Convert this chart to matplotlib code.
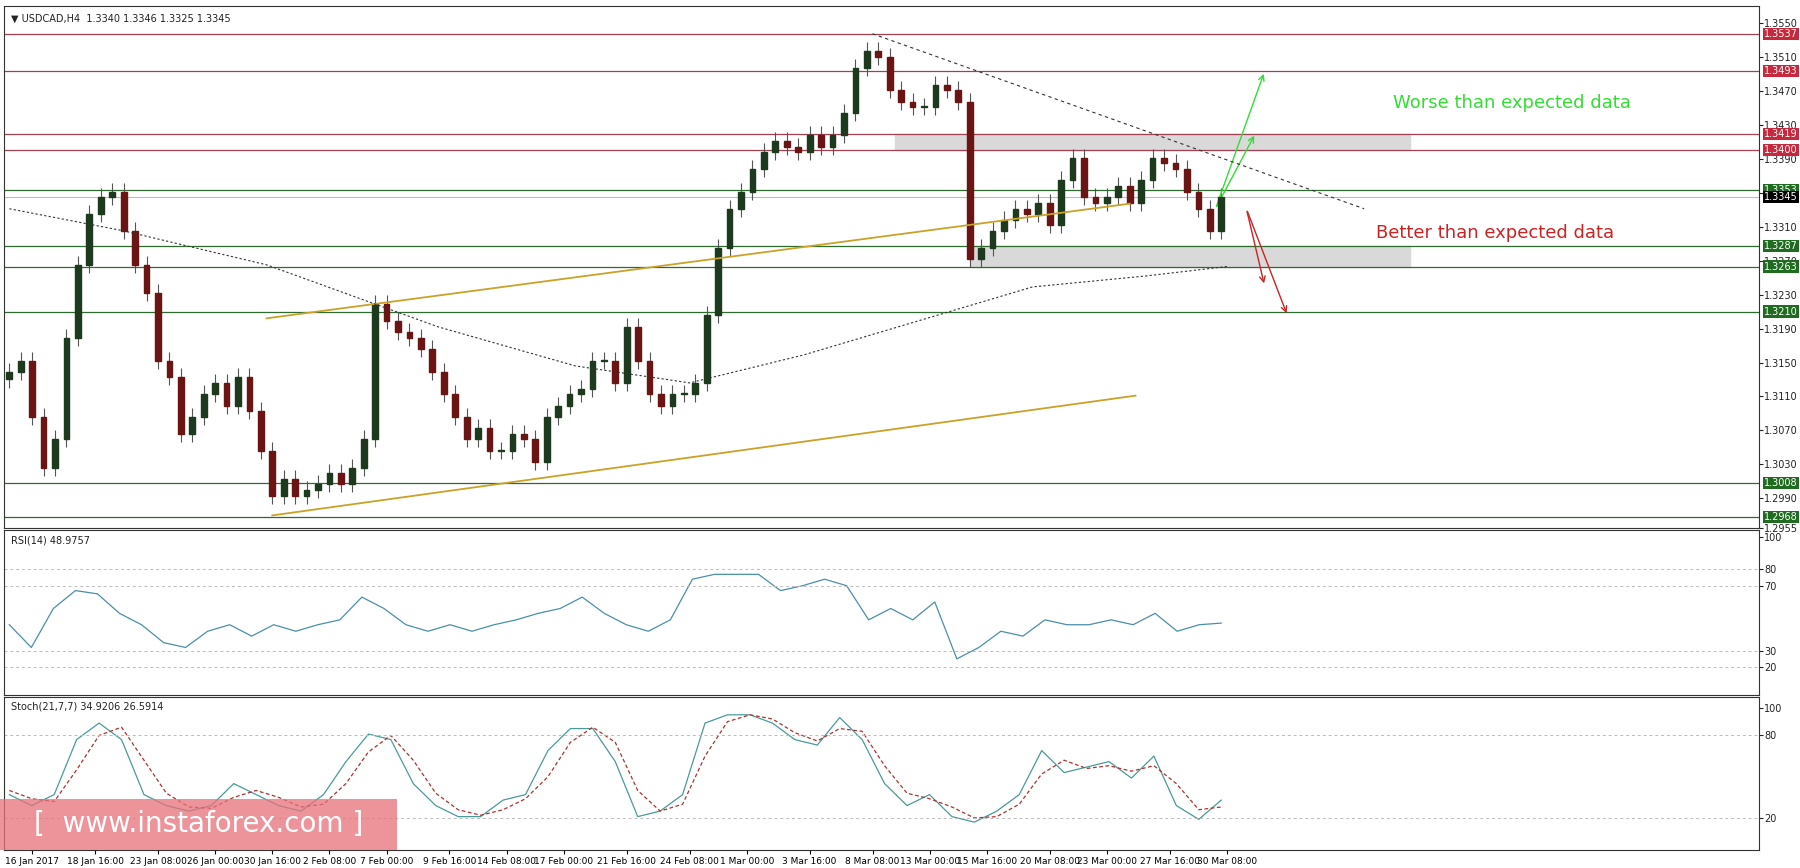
import matplotlib
matplotlib.use("Agg")
import matplotlib.pyplot as plt
from matplotlib.patches import Rectangle
import numpy as np

title = "USDCAD,H4  1.3340 1.3346 1.3325 1.3345"
closes = [1.3139,1.3152,1.3086,1.3026,1.3060,1.3179,1.3265,1.3325,1.3345,1.3351,1.3305,1.3265,1.3232,1.3152,1.3133,1.3066,1.3086,1.3113,1.3126,1.3099,1.3133,1.3093,1.3046,1.2993,1.3013,1.2993,1.3000,1.3007,1.3020,1.3007,1.3026,1.3060,1.3219,1.3199,1.3186,1.3179,1.3166,1.3139,1.3113,1.3086,1.3060,1.3073,1.3046,1.3046,1.3066,1.3060,1.3033,1.3086,1.3099,1.3113,1.3119,1.3152,1.3152,1.3126,1.3192,1.3152,1.3113,1.3099,1.3113,1.3113,1.3126,1.3206,1.3285,1.3331,1.3351,1.3378,1.3398,1.3411,1.3404,1.3398,1.3418,1.3404,1.3418,1.3444,1.3497,1.3517,1.3510,1.3471,1.3457,1.3451,1.3451,1.3477,1.3471,1.3457,1.3272,1.3285,1.3305,1.3318,1.3331,1.3325,1.3338,1.3312,1.3365,1.3391,1.3345,1.3338,1.3345,1.3358,1.3338,1.3365,1.3391,1.3385,1.3378,1.3351,1.3331,1.3305,1.3345]
first_open = 1.3130
wick = 0.0010

ma_idx = [0, 10, 22.5, 37.5, 49.5, 59.5, 69.5, 79.5, 89.5, 99.5, 106.5]
ma_val = [1.3331, 1.3305, 1.3265, 1.3192, 1.3146, 1.3126, 1.3159, 1.3199, 1.3239, 1.3252, 1.3263]

red_levels = [1.3537, 1.3493, 1.3419, 1.3400]
green_levels = [1.3353, 1.3287, 1.3263, 1.3210, 1.3008, 1.2968]
last_price = 1.3345

upper_trend = ([22.5, 98], [1.3202, 1.3337])
lower_trend = ([23, 98.5], [1.2970, 1.3111])
down_trend = ([75.5, 118.5], [1.3537, 1.3331])
zones = [(77.5, 122.5, 1.3400, 1.3419), (84, 122.5, 1.3263, 1.3287)]

rsi = [46,32,56,67,65,53,46,35,32,42,46,39,46,42,46,49,63,56,46,42,46,42,46,49,53,56,63,53,46,42,49,74,77,77,77,67,70,74,70,49,56,49,60,25,32,42,39,49,46,46,49,46,53,42,46,47]
stk = [37,29,37,77,89,77,37,29,25,29,45,37,29,25,37,61,81,77,45,29,21,21,33,37,69,85,85,61,21,25,37,89,95,95,89,77,73,93,77,45,29,37,21,17,25,37,69,53,57,61,49,65,29,19,33]
std = [40,34,32,55,80,86,62,38,28,27,35,40,35,28,30,45,68,80,62,38,26,22,26,34,50,75,86,75,40,25,30,65,90,95,92,82,76,85,83,58,38,34,28,20,21,30,52,62,56,58,54,58,45,26,28]

xtick_labels = ["16 Jan 2017","18 Jan 16:00","23 Jan 08:00","26 Jan 00:00","30 Jan 16:00","2 Feb 08:00","7 Feb 00:00","9 Feb 16:00","14 Feb 08:00","17 Feb 00:00","21 Feb 16:00","24 Feb 08:00","1 Mar 00:00","3 Mar 16:00","8 Mar 08:00","13 Mar 00:00","15 Mar 16:00","20 Mar 08:00","23 Mar 00:00","27 Mar 16:00","30 Mar 08:00"]
xtick_pos = [2, 7.5, 13, 18, 23, 28, 33, 38.5, 43.5, 48.5, 54, 59.5, 64.5, 70, 75.5, 80.5, 85.5, 91, 96, 101.5, 106.5]

plt.rcParams['font.family'] = ['DejaVu Sans']
fig = plt.figure(figsize=(18, 8.68), dpi=100)
H = 756.0
L, R = 0.002, 0.977
def ax_at(top, bot):
    return fig.add_axes([L, 1 - bot / H, R - L, (bot - top) / H])
ax = ax_at(5, 460)
ax2 = ax_at(462, 605)
ax3 = ax_at(607, 740)
XL = (-0.5, 153)
for a in (ax, ax2, ax3):
    a.set_xlim(*XL)
    a.yaxis.tick_right()
    a.tick_params(axis='y', labelsize=7, length=3, pad=1, colors='#222')
    a.set_xticks([])
    for s in a.spines.values():
        s.set_color('#333'); s.set_linewidth(0.8)

n = len(closes)
opens = [first_open] + closes[:-1]
for i in range(n):
    o, c = opens[i], closes[i]
    hi, lo = max(o, c) + wick, min(o, c) - wick
    ax.vlines(i, lo, hi, color='#555', lw=0.8, zorder=3)
    col = '#1e3a1e' if c >= o else '#6a1414'
    ax.add_patch(Rectangle((i - 0.25, min(o, c)), 0.5, max(abs(c - o), 0.00015), color=col, zorder=4))
for z in zones:
    ax.add_patch(Rectangle((z[0], z[2]), z[1] - z[0], z[3] - z[2], color='#d9d9d9', zorder=1))
for lv in red_levels:
    ax.axhline(lv, color='#a04050', lw=0.9, zorder=2)
for lv in green_levels:
    ax.axhline(lv, color='#2e6b2e', lw=0.9, zorder=2)
ax.axhline(last_price, color='#bbb', lw=0.8, zorder=2)
ax.plot(*upper_trend, color='#c9a227', lw=1.3, zorder=5)
ax.plot(*lower_trend, color='#c9a227', lw=1.3, zorder=5)
ax.plot(*down_trend, color='#333', lw=0.8, ls=(0, (3, 3)), zorder=5)
ax.plot(ma_idx, ma_val, color='#333', lw=0.8, ls=(0, (2, 2)), zorder=5)
ax.set_ylim(1.2960, 1.3570)
yt = [1.2955, 1.2990, 1.3030, 1.3070, 1.3110, 1.3150, 1.3190, 1.3230, 1.3270, 1.3310, 1.3350, 1.3390, 1.3430, 1.3470, 1.3510, 1.3550]
ax.set_yticks(yt)
ax.set_yticklabels([f"{v:.4f}" for v in yt])
for lv in red_levels + green_levels + [last_price]:
    fc = '#c8283c' if lv in red_levels else ('#000' if lv == last_price else '#1f6b1f')
    ax.text(1.003, lv, f"{lv:.4f}", transform=ax.get_yaxis_transform(), fontsize=7, color='white',
            va='center', ha='left', bbox=dict(boxstyle='square,pad=0.12', fc=fc, ec='none'), zorder=10, clip_on=False)
ax.annotate('', xy=(109.8, 1.3493), xytext=(105.5, 1.3331), arrowprops=dict(arrowstyle='->', color='#33dd33', lw=1))
ax.annotate('', xy=(109.0, 1.3420), xytext=(105.5, 1.3331), arrowprops=dict(arrowstyle='->', color='#33dd33', lw=1))
ax.annotate('', xy=(109.8, 1.3240), xytext=(108.2, 1.3331), arrowprops=dict(arrowstyle='->', color='#cc2222', lw=1))
ax.annotate('', xy=(111.8, 1.3205), xytext=(108.2, 1.3331), arrowprops=dict(arrowstyle='->', color='#cc2222', lw=1))
ax.text(121, 1.3455, "Worse than expected data", color='#33dd33', fontsize=13, va='center')
ax.text(119.5, 1.3302, "Better than expected data", color='#cc2222', fontsize=13, va='center')
ax.text(0.004, 0.985, "\u25BC " + title, transform=ax.transAxes, fontsize=7, va='top', color='#222')

xr = np.linspace(0, n - 1, len(rsi))
ax2.plot(xr, rsi, color='#4a8fa8', lw=0.9)
for lv in (80, 70, 30, 20):
    ax2.axhline(lv, color='#bbb', lw=0.7, ls=(0, (3, 3)))
ax2.set_ylim(3, 104)
ax2.set_yticks([20, 30, 70, 80, 100])
ax2.text(0.004, 0.97, "RSI(14) 48.9757", transform=ax2.transAxes, fontsize=7, va='top', color='#222')

xs = np.linspace(0, n - 1, len(stk))
ax3.plot(xs, stk, color='#4a9a9a', lw=0.9)
ax3.plot(xs, std, color='#b03030', lw=0.9, ls=(0, (3, 2)))
for lv in (80, 20):
    ax3.axhline(lv, color='#bbb', lw=0.7, ls=(0, (3, 3)))
ax3.set_ylim(-3, 108)
ax3.set_yticks([20, 80, 100])
ax3.text(0.004, 0.97, "Stoch(21,7,7) 34.9206 26.5914", transform=ax3.transAxes, fontsize=7, va='top', color='#222')
ax3.set_xticks(xtick_pos)
ax3.set_xticklabels(xtick_labels, fontsize=6.5)
ax3.tick_params(axis='x', length=3, pad=2)

fig.patches.append(Rectangle((0, 1 - 740 / H), 346 / 1568, 44 / H, transform=fig.transFigure, fc='#e8707a', alpha=0.75, ec='none', zorder=20))
fig.text(173 / 1568, 1 - 718 / H, "[  www.instaforex.com ]", color='white', fontsize=20, ha='center', va='center', zorder=21)

fig.savefig("out.png", dpi=100)
